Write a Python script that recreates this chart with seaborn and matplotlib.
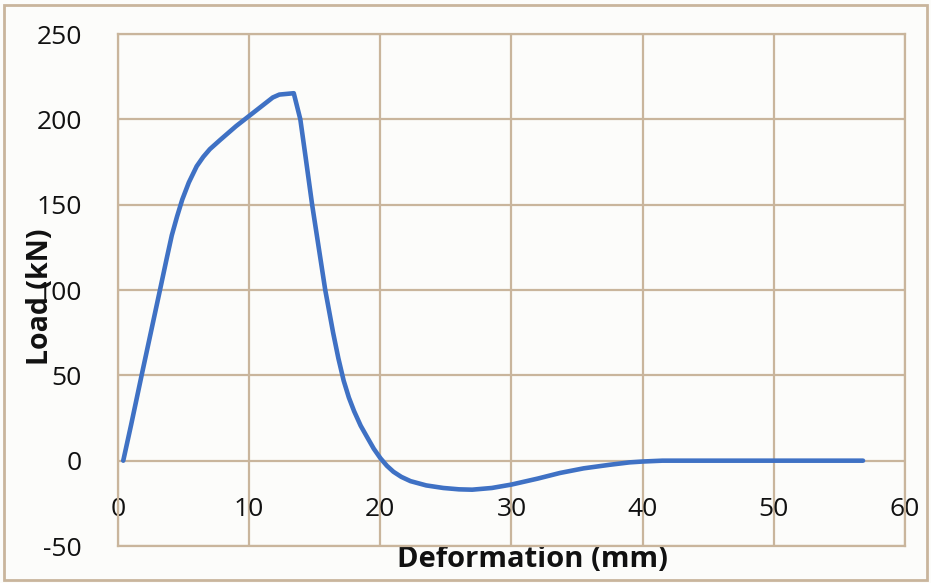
import matplotlib
matplotlib.use("Agg")
import matplotlib.pyplot as plt
from matplotlib.patches import Rectangle
import pandas as pd
import seaborn as sns

# values
deformation = [0.4, 1.0, 1.8, 2.5, 3.2, 3.7, 4.1, 4.5, 4.9, 5.4, 6.0, 6.5,
               7.0, 7.8, 9.0, 10.0, 11.0, 11.8, 12.3, 13.4, 13.9, 14.3,
               14.8, 15.3, 15.8, 16.4, 16.8, 17.2, 17.6, 18.0, 18.5, 19.0,
               19.5, 20.0, 20.5, 21.0, 21.6, 22.3, 23.5, 24.8, 26.0, 27.0,
               28.5, 30.0, 32.0, 33.7, 35.5, 37.5, 39.0, 40.0, 41.5, 45.0,
               50.0, 56.8]
load = [0, 21, 50, 75, 100, 118, 132, 143, 153, 163, 172.5, 178,
        182.5, 188, 196, 202, 208, 212.8, 214.5, 215.3, 200, 178,
        150, 125, 100, 75, 60, 47, 37, 29, 20.5, 13.7,
        7, 1.5, -3, -6.5, -9.5, -12, -14.5, -16, -16.8, -17,
        -16, -14, -10.5, -7.2, -4.5, -2.4, -1, -0.5, 0, 0,
        0, 0]

x_ticks = [0, 10, 20, 30, 40, 50, 60]
y_ticks = [-50, 0, 50, 100, 150, 200, 250]

df = pd.DataFrame({"Deformation (mm)": deformation, "Load (kN)": load})

sns.set_style("white")
plt.rcParams["font.family"] = ["Open Sans", "DejaVu Sans"]
plt.rcParams["axes.unicode_minus"] = False

grid_col = "#c9b59c"
line_col = "#3f71c4"

fig = plt.figure(figsize=(9.31, 5.83), dpi=100, facecolor="#fcfcfa")
ax = fig.add_axes([118 / 931, 37 / 583, 787 / 931, 512 / 583])
ax.set_facecolor("#fcfcfa")

sns.lineplot(data=df, x="Deformation (mm)", y="Load (kN)", ax=ax,
             color=line_col, linewidth=3.3, sort=False, estimator=None)
ax.lines[0].set_solid_joinstyle("round")
ax.lines[0].set_solid_capstyle("round")

ax.set_xlim(0, 60)
ax.set_ylim(-50, 250)
ax.set_xticks(x_ticks)
ax.set_yticks(y_ticks)
ax.grid(True, color=grid_col, linewidth=1.6)
ax.set_axisbelow(True)

for side in ["top", "right", "left", "bottom"]:
    ax.spines[side].set_visible(True)
    ax.spines[side].set_color(grid_col)
    ax.spines[side].set_linewidth(1.6)

# x labels sit just below the zero line like in Excel
ax.tick_params(axis="x", length=0, pad=-35, labelsize=19, colors="#111111")
ax.tick_params(axis="y", length=0, pad=26, labelsize=19, colors="#111111")

ax.set_xlabel("Deformation (mm)", fontsize=21, fontweight="bold", color="#111111")
ax.set_ylabel("Load (kN)", fontsize=20.5, fontweight="bold", color="#111111")
ax.xaxis.set_label_coords(0.526, -0.027)
ax.xaxis.label.set_va("center")
ax.yaxis.set_label_coords(-0.099, 0.486)
ax.yaxis.label.set_va("center")

# outer chart border
fig.patches.append(Rectangle((4 / 931, 3 / 583), 923 / 931, 575 / 583,
                             transform=fig.transFigure, fill=False,
                             edgecolor=grid_col, linewidth=2))

plt.savefig("out.png", dpi=100, facecolor=fig.get_facecolor())
